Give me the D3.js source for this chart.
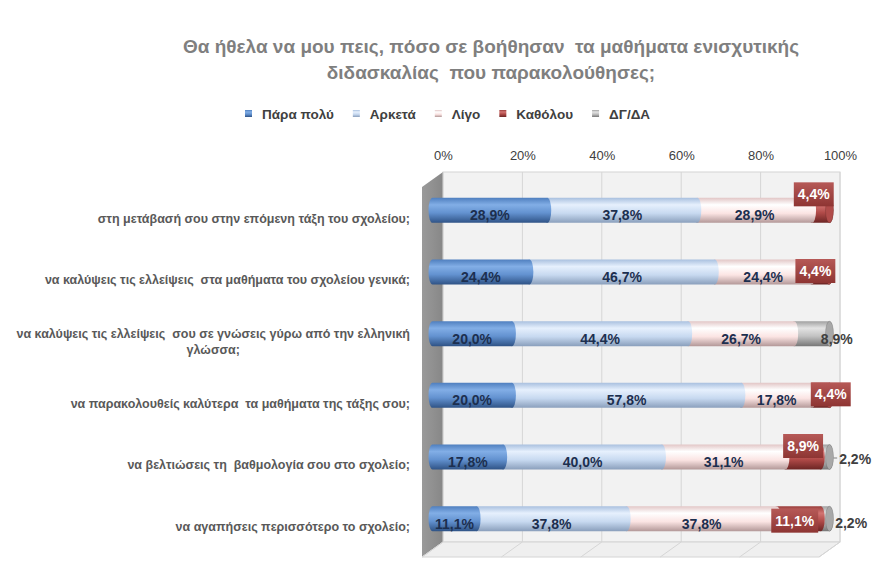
<!DOCTYPE html>
<html>
<head>
<meta charset="utf-8">
<script src="https://cdn.jsdelivr.net/npm/d3@7"></script>
<style>
  body { margin: 0; background: #fff; }
  svg { display: block; font-family: "Liberation Sans", Arial, sans-serif; }
  text { white-space: pre; }
</style>
</head>
<body>
<svg id="chart" width="883" height="563"></svg>
<script>
// chart values
const titleLines = ["Θα ήθελα να μου πεις, πόσο σε βοήθησαν  τα μαθήματα ενισχυτικής", "διδασκαλίας  που παρακολούθησες;"];
const categories = [
  "στη μετάβασή σου στην επόμενη τάξη του σχολείου;",
  "να καλύψεις τις ελλείψεις  στα μαθήματα του σχολείου γενικά;",
  "να καλύψεις τις ελλείψεις  σου σε γνώσεις γύρω από την ελληνική\nγλώσσα;",
  "να παρακολουθείς καλύτερα  τα μαθήματα της τάξης σου;",
  "να βελτιώσεις τη  βαθμολογία σου στο σχολείο;",
  "να αγαπήσεις περισσότερο το σχολείο;"
];
const seriesNames = ["Πάρα πολύ", "Αρκετά", "Λίγο", "Καθόλου", "ΔΓ/ΔΑ"];
const paraPoly = [28.9, 24.4, 20.0, 20.0, 17.8, 11.1];
const arketa   = [37.8, 46.7, 44.4, 57.8, 40.0, 37.8];
const ligo     = [28.9, 24.4, 26.7, 17.8, 31.1, 37.8];
const katholou = [4.4, 4.4, 0, 4.4, 8.9, 11.1];
const dgda     = [0, 0, 8.9, 0, 2.2, 2.2];
const tickValues = [0, 20, 40, 60, 80, 100];

// label nudges (pixels) where Excel moved labels off the segment centre
const katholouNudge = [[-7, -16], [-5, -1], [0, 0], [10, -1], [0, -11], [-4, 2]];
const dgdaNudge = [[0, 0], [0, 0], [25, 5], [0, 0], [30, 2], [26, 4]];

const seriesData = [paraPoly, arketa, ligo, katholou, dgda];
const rows = categories.map((c, i) => {
  const r = { category: c, index: i };
  seriesNames.forEach((s, k) => r[s] = seriesData[k][i]);
  return r;
});

const svg = d3.select("#chart");
const defs = svg.append("defs");

// geometry of the fake 3D box
const wallLeft = 443, wallRight = 840, wallTop = 172, wallBottom = 542;
const depthX = -21, depthY = 15;
const barH = 25, capRx = 4;

const xWall = d3.scaleLinear().domain([0, 100]).range([wallLeft, wallRight]);
const xBar = d3.scaleLinear().domain([0, 100]).range([wallLeft + depthX / 2, wallRight + depthX / 2]);
const y = d3.scaleBand().domain(categories).range([wallTop, wallBottom]);
const barCy = c => y(c) + y.bandwidth() / 2 + depthY / 2;

// cylinder gradients
const grads = {
  "Πάρα πολύ": [["0", "#4f7fbf"], ["0.28", "#82aee6"], ["0.6", "#6392d0"], ["1", "#2f5386"]],
  "Αρκετά":    [["0", "#a9c0df"], ["0.28", "#e6f0fd"], ["0.62", "#c7d9f0"], ["1", "#8a9fbc"]],
  "Λίγο":      [["0", "#e2c6c6"], ["0.28", "#ffffff"], ["0.62", "#fbe4e3"], ["1", "#b39898"]],
  "Καθόλου":   [["0", "#9b3f3d"], ["0.28", "#d27472"], ["0.6", "#b04a48"], ["1", "#6c2524"]],
  "ΔΓ/ΔΑ":     [["0", "#a0a0a0"], ["0.28", "#e3e3e3"], ["0.6", "#c2c2c2"], ["1", "#777777"]]
};
const capColor = { "Πάρα πολύ": "#5a86c0", "Αρκετά": "#b9cce6", "Λίγο": "#efd3d2", "Καθόλου": "#b04c4a", "ΔΓ/ΔΑ": "#a8a8a8" };

seriesNames.forEach((s, k) => {
  const g = defs.append("linearGradient")
    .attr("id", "g" + k)
    .attr("x1", 0).attr("y1", 0).attr("x2", 0).attr("y2", 1);
  grads[s].forEach(st => g.append("stop").attr("offset", st[0]).attr("stop-color", st[1]));
});

const wallGrad = defs.append("linearGradient").attr("id", "wallGrad")
  .attr("x1", 0).attr("y1", 0).attr("x2", 1).attr("y2", 0);
wallGrad.append("stop").attr("offset", "0").attr("stop-color", "#9a9a9a");
wallGrad.append("stop").attr("offset", "1").attr("stop-color", "#878787");

const labelBoxGrad = defs.append("linearGradient").attr("id", "boxGrad")
  .attr("x1", 0).attr("y1", 0).attr("x2", 0).attr("y2", 1);
labelBoxGrad.append("stop").attr("offset", "0").attr("stop-color", "#b65957");
labelBoxGrad.append("stop").attr("offset", "1").attr("stop-color", "#8e3533");

// title
svg.append("g").selectAll("text")
  .data(titleLines)
  .join("text")
  .attr("x", 491)
  .attr("y", (d, i) => 53 + i * 26)
  .attr("text-anchor", "middle")
  .attr("font-size", 19)
  .attr("font-weight", "bold")
  .attr("fill", "#7f7f7f")
  .text(d => d);

// legend
const legend = svg.append("g");
let lx = 245;
seriesNames.forEach((s, k) => {
  legend.append("rect")
    .attr("x", lx).attr("y", 110).attr("width", 7).attr("height", 7)
    .attr("fill", `url(#g${k})`);
  const t = legend.append("text")
    .attr("x", lx + 17).attr("y", 118.5)
    .attr("font-size", 13.5)
    .attr("font-weight", "bold")
    .attr("fill", "#404040")
    .text(s);
  lx += 17 + t.node().getComputedTextLength() + 19;
});

// back wall, side wall, floor
svg.append("rect")
  .attr("x", wallLeft).attr("y", wallTop)
  .attr("width", wallRight - wallLeft).attr("height", wallBottom - wallTop)
  .attr("fill", "#f2f2f2")
  .attr("stroke", "#d4d4d4");

svg.append("polygon")
  .attr("points", [[wallLeft, wallTop], [wallLeft + depthX, wallTop + depthY], [wallLeft + depthX, wallBottom + depthY], [wallLeft, wallBottom]].join(" "))
  .attr("fill", "url(#wallGrad)");

svg.append("polygon")
  .attr("points", [[wallLeft, wallBottom], [wallRight, wallBottom], [wallRight + depthX, wallBottom + depthY], [wallLeft + depthX, wallBottom + depthY]].join(" "))
  .attr("fill", "#efefef")
  .attr("stroke", "#d4d4d4");

// gridlines on wall and floor
const grid = svg.append("g").attr("stroke", "#d6d6d6").attr("fill", "none");
grid.selectAll("path")
  .data(tickValues)
  .join("path")
  .attr("d", t => `M${xWall(t)},${wallTop}V${wallBottom}l${depthX},${depthY}`);

// top axis
const axis = svg.append("g")
  .attr("transform", `translate(0,${wallTop - 12})`)
  .call(d3.axisTop(xWall).tickValues(tickValues).tickSize(0).tickPadding(0).tickFormat(d => d + "%"));
axis.select(".domain").remove();
axis.selectAll("text")
  .attr("font-family", "Liberation Sans, Arial, sans-serif")
  .attr("font-size", 13)
  .attr("fill", "#404040");

// category labels
const catG = svg.append("g");
categories.forEach(c => {
  const lines = c.split("\n");
  const cy = barCy(c) + 8;
  const lh = 16;
  const first = catG.append("text")
    .attr("x", 410)
    .attr("y", cy - (lines.length - 1) * lh / 2)
    .attr("dy", "0.35em")
    .attr("text-anchor", "end")
    .attr("font-size", 12.5)
    .attr("font-weight", "bold")
    .attr("fill", "#595959")
    .text(lines[0]);
  const w = first.node().getComputedTextLength();
  lines.slice(1).forEach((ln, j) => {
    catG.append("text")
      .attr("x", 410 - w / 2)
      .attr("y", cy - (lines.length - 1) * lh / 2 + (j + 1) * lh)
      .attr("dy", "0.35em")
      .attr("text-anchor", "middle")
      .attr("font-size", 12.5)
      .attr("font-weight", "bold")
      .attr("fill", "#595959")
      .text(ln);
  });
});

// stacked cylinders
const stacked = d3.stack().keys(seriesNames)(rows);

function segPath(x0, x1, cy) {
  const t = cy - barH / 2, b = cy + barH / 2, ry = barH / 2;
  return `M${x0},${t}L${x1},${t}A${capRx},${ry} 0 0 1 ${x1},${b}L${x0},${b}A${capRx},${ry} 0 0 1 ${x0},${t}Z`;
}

const bars = svg.append("g");
rows.forEach((r, i) => {
  const cy = barCy(r.category);
  const segs = stacked.map((layer, k) => ({ k, name: seriesNames[k], x0: layer[i][0], x1: layer[i][1] }))
    .filter(s => s.x1 - s.x0 > 0);
  const g = bars.append("g");
  segs.slice().reverse().forEach(s => {
    g.append("path")
      .attr("d", segPath(xBar(s.x0), xBar(s.x1), cy))
      .attr("fill", `url(#g${s.k})`);
  });
  const last = segs[segs.length - 1];
  g.append("ellipse")
    .attr("cx", xBar(last.x1)).attr("cy", cy)
    .attr("rx", capRx).attr("ry", barH / 2)
    .attr("fill", capColor[last.name])
    .attr("stroke", "#00000022");
});

// data labels
const labels = svg.append("g")
  .attr("font-size", 14)
  .attr("font-weight", "bold");

rows.forEach((r, i) => {
  const cy = barCy(r.category);
  stacked.forEach((layer, k) => {
    const v = seriesData[k][i];
    if (!v) return;
    const mid = xBar((layer[i][0] + layer[i][1]) / 2);
    const txt = d3.format(".1f")(v).replace(".", ",") + "%";
    if (k < 3) {
      labels.append("text")
        .attr("x", mid).attr("y", cy + 5)
        .attr("dy", "0.35em")
        .attr("text-anchor", "middle")
        .attr("fill", "#1c2f4f")
        .text(txt);
    } else if (k === 3) {
      const [dx, dy] = katholouNudge[i];
      const lg = labels.append("g").attr("transform", `translate(${mid + dx},${cy + dy})`);
      const t = lg.append("text")
        .attr("text-anchor", "middle")
        .attr("dy", "0.35em")
        .attr("fill", "#fff")
        .text(txt);
      const w = t.node().getComputedTextLength();
      lg.insert("rect", "text")
        .attr("x", -w / 2 - 4).attr("y", -12)
        .attr("width", w + 8).attr("height", 24)
        .attr("fill", "url(#boxGrad)");
    } else {
      const [dx, dy] = dgdaNudge[i];
      const t = labels.append("text")
        .attr("x", mid + dx).attr("y", cy + dy)
        .attr("dy", "0.35em")
        .attr("text-anchor", "middle")
        .attr("fill", "#404040")
        .text(txt);
      const left = mid + dx - t.node().getComputedTextLength() / 2;
      const end = xBar(100) + capRx;
      if (left - end > 5) {
        labels.append("line")
          .attr("x1", end).attr("x2", left - 2)
          .attr("y1", cy + dy - 1).attr("y2", cy + dy - 1)
          .attr("stroke", "#808080");
      }
    }
  });
});
</script>
</body>
</html>
